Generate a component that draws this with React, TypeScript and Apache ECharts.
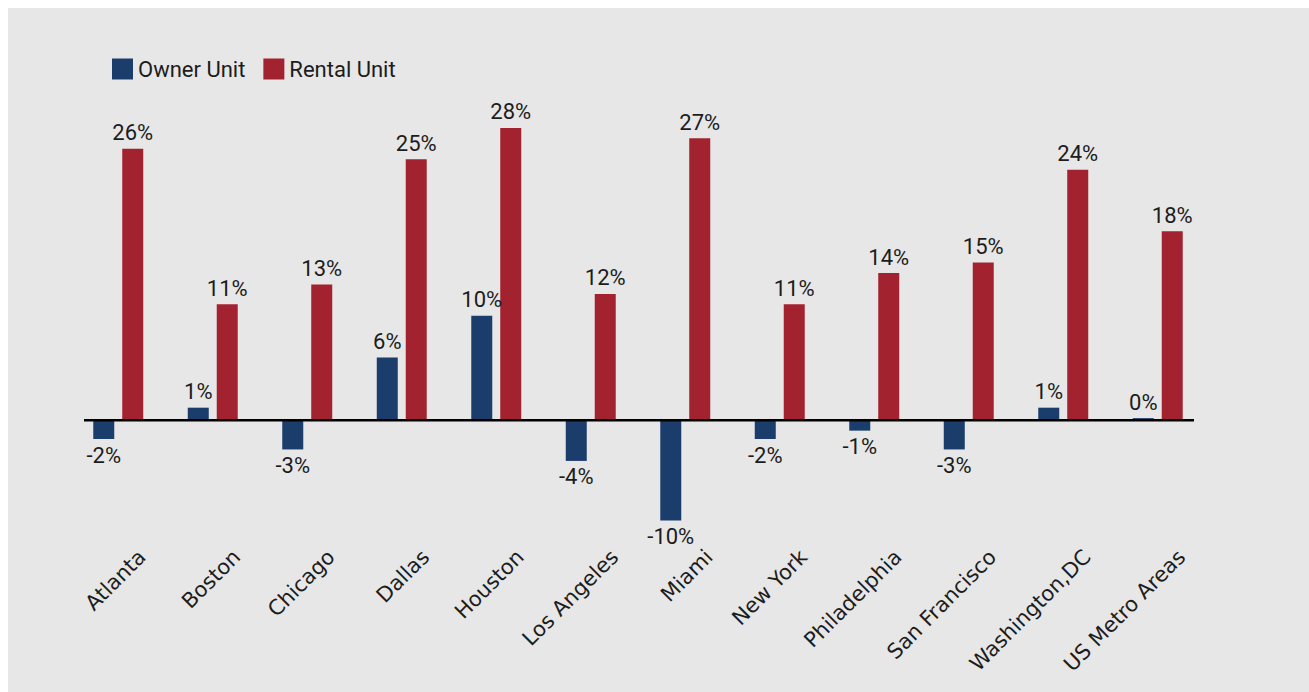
import React, { useEffect, useRef } from "react";
import * as echarts from "echarts";

const categories = [
  "Atlanta",
  "Boston",
  "Chicago",
  "Dallas",
  "Houston",
  "Los Angeles",
  "Miami",
  "New York",
  "Philadelphia",
  "San Francisco",
  "Washington,DC",
  "US Metro Areas",
];
const ownerUnit = [-1.8, 1.2, -2.8, 6.0, 10.0, -3.9, -9.6, -1.8, -1.0, -2.8, 1.2, 0.2];
const rentalUnit = [26.0, 11.1, 13.0, 25.0, 28.0, 12.1, 27.0, 11.1, 14.1, 15.1, 24.0, 18.1];
const seriesNames = ["Owner Unit", "Rental Unit"];

const FONT = "Roboto, 'Noto Sans', sans-serif";
const AXIS_FONT = "'DejaVu Sans', sans-serif";
const TEXT = "#1c1c1c";
const BLUE = "#1b3d6c";
const RED = "#a3222f";

export default function App() {
  const ref = useRef<HTMLDivElement>(null);

  useEffect(() => {
    if (!ref.current) return;
    const chart = echarts.init(ref.current, undefined, { renderer: "svg" });
    const yMin = -12;
    const yMax = 30;
    const gridTop = 99;
    const gridHeight = 438.5;
    const gridLeft = 63;
    const gridWidth = 1134;

    const mkData = (arr: number[]) =>
      arr.map((v) => ({ value: v, label: { position: v < 0 ? "bottom" : "top" } }));

    const labelStyle = {
      show: true,
      formatter: (p: any) => Math.round(p.value) + "%",
      fontFamily: FONT,
      fontSize: 22,
      color: TEXT,
      distance: 5,
    };

    chart.setOption({
      animation: false,
      backgroundColor: "transparent",
      textStyle: { fontFamily: FONT },
      legend: {
        data: seriesNames,
        left: 104,
        top: 50,
        padding: 0,
        icon: "rect",
        itemWidth: 21,
        itemHeight: 21,
        itemGap: 18,
        textStyle: { fontFamily: FONT, fontSize: 22, color: TEXT },
      },
      grid: [
        { left: gridLeft, width: gridWidth, top: gridTop, height: gridHeight },
        { left: gridLeft + 24, width: gridWidth, top: gridTop, height: gridHeight },
      ],
      xAxis: [
        {
          type: "category",
          gridIndex: 0,
          data: categories,
          axisLine: { show: false },
          axisTick: { show: false },
          axisLabel: { show: false },
          splitLine: { show: false },
        },
        {
          type: "category",
          gridIndex: 1,
          data: categories,
          axisLine: { show: false },
          axisTick: { show: false },
          splitLine: { show: false },
          axisLabel: {
            interval: 0,
            rotate: 45,
            margin: 8,
            fontFamily: AXIS_FONT,
            fontSize: 21,
            color: TEXT,
          },
        },
      ],
      yAxis: [
        { type: "value", gridIndex: 0, min: yMin, max: yMax, show: false, splitLine: { show: false } },
        { type: "value", gridIndex: 1, min: yMin, max: yMax, show: false, splitLine: { show: false } },
      ],
      series: [
        {
          name: seriesNames[0],
          type: "bar",
          xAxisIndex: 0,
          yAxisIndex: 0,
          data: mkData(ownerUnit),
          barWidth: 21,
          barGap: "38%",
          itemStyle: { color: BLUE },
          label: labelStyle,
        },
        {
          name: seriesNames[1],
          type: "bar",
          xAxisIndex: 0,
          yAxisIndex: 0,
          data: mkData(rentalUnit),
          barWidth: 21,
          barGap: "38%",
          itemStyle: { color: RED },
          label: labelStyle,
        },
      ],
    });

    const zeroY = chart.convertToPixel({ yAxisIndex: 0 }, 0) as number;
    chart.setOption({
      graphic: [
        {
          type: "line",
          silent: true,
          z: 10,
          shape: { x1: 76, y1: zeroY, x2: 1186, y2: zeroY },
          style: { stroke: "#000", lineWidth: 2.5 },
        },
      ],
    });

    return () => chart.dispose();
  }, []);

  return (
    <div
      ref={ref}
      style={{
        position: "fixed",
        left: 8,
        top: 8,
        width: 1301,
        height: 684,
        background: "#e7e7e7",
      }}
    />
  );
}
